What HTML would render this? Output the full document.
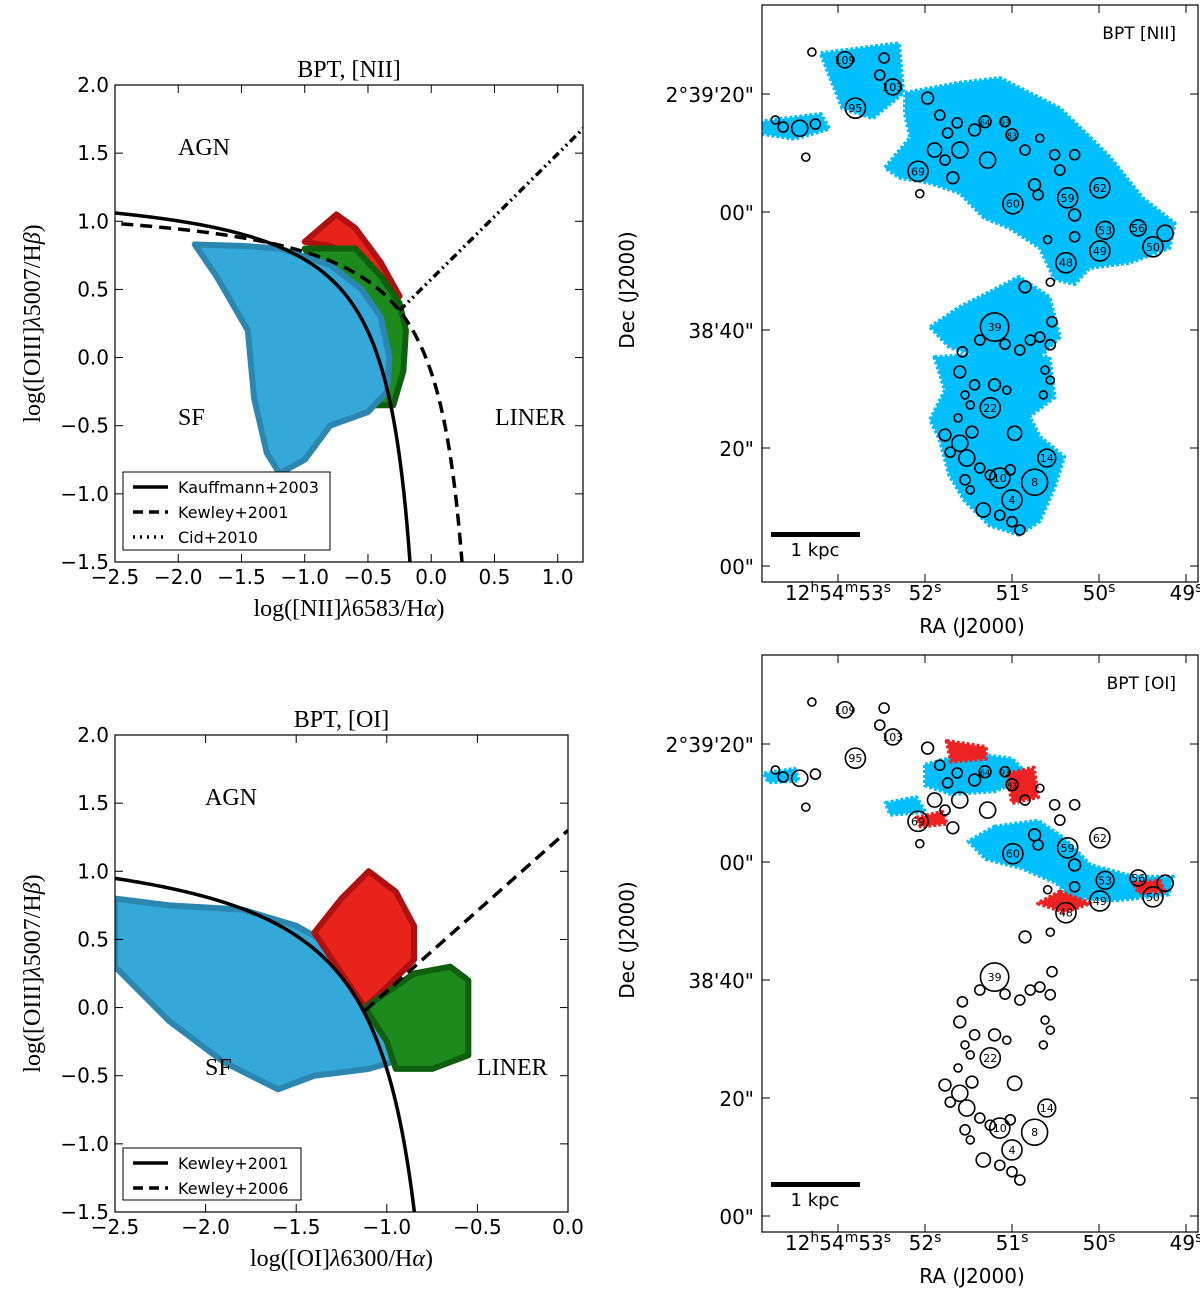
<!DOCTYPE html>
<html><head><meta charset="utf-8"><style>
html,body{margin:0;padding:0;background:#fff}
svg{display:block}
.ser{font-family:"Liberation Serif","DejaVu Serif",serif}
.san{font-family:"DejaVu Sans","Liberation Sans",sans-serif}
</style></head><body>
<svg id="fig" width="1200" height="1295" viewBox="0 0 1200 1295" xmlns="http://www.w3.org/2000/svg"></svg>
<script>
// ---------- DATA ----------
const niiCyanX=[-1.87,-1.5,-1.2,-0.8,-0.55,-0.4,-0.33,-0.35,-0.5,-0.8,-1.0,-1.2,-1.3,-1.4,-1.45,-1.7];
const niiCyanY=[0.83,0.82,0.8,0.68,0.5,0.3,0.0,-0.25,-0.4,-0.5,-0.75,-0.85,-0.7,-0.3,0.2,0.6];
const niiGreenX=[-1.0,-0.6,-0.4,-0.25,-0.2,-0.22,-0.3,-0.45,-0.5];
const niiGreenY=[0.8,0.8,0.6,0.4,0.2,-0.1,-0.35,-0.35,0.0];
const niiRedX=[-1.0,-0.75,-0.6,-0.4,-0.25,-0.35,-0.55,-0.8];
const niiRedY=[0.85,1.05,0.95,0.7,0.45,0.5,0.72,0.82];
const oiCyanX=[-2.5,-2.2,-1.8,-1.5,-1.3,-1.15,-1.0,-0.97,-1.1,-1.4,-1.6,-1.9,-2.2,-2.5];
const oiCyanY=[0.8,0.75,0.72,0.6,0.45,0.25,-0.1,-0.4,-0.45,-0.5,-0.6,-0.4,-0.1,0.3];
const oiRedX=[-1.4,-1.25,-1.1,-0.95,-0.85,-0.85,-1.0,-1.12,-1.25];
const oiRedY=[0.55,0.8,1.0,0.85,0.6,0.35,0.15,0.0,0.25];
const oiGreenX=[-1.12,-0.85,-0.65,-0.55,-0.55,-0.75,-0.95,-1.0];
const oiGreenY=[0.0,0.25,0.3,0.2,-0.35,-0.45,-0.45,-0.25];
const niiXTicks=[-2.5,-2.0,-1.5,-1.0,-0.5,0.0,0.5,1.0];
const oiXTicks=[-2.5,-2.0,-1.5,-1.0,-0.5,0.0];
const yTicks=[2.0,1.5,1.0,0.5,0.0,-0.5,-1.0,-1.5];
// Map circles: [RA seconds (12h54m), Dec arcsec above 2°38'00", radius arcsec, label]
const circles=[
[52.92,85.8,1.36,"109"],[53.30,87.1,0.68,""],[52.52,83.2,0.85,""],[52.47,86.1,0.85,""],[52.37,81.2,1.36,"103"],
[52.80,77.6,1.7,"95"],[53.72,75.6,0.68,""],[53.63,74.4,0.85,""],[53.44,74.2,1.36,""],[53.26,74.9,0.85,""],
[53.37,69.3,0.68,""],[51.97,79.3,1.0,""],[51.83,76.4,0.85,""],[51.63,75.1,0.85,""],[51.74,73.4,0.85,""],
[51.89,70.5,1.2,""],[51.77,68.8,0.85,""],[51.60,70.5,1.36,""],[51.43,73.9,1.0,""],[51.31,75.3,1.0,"64"],
[51.08,75.3,0.85,"93"],[51.00,73.1,1.0,"83"],[51.28,68.8,1.36,""],[50.85,70.5,0.85,""],[50.68,72.5,0.68,""],
[50.51,69.7,0.85,""],[50.28,69.7,0.85,""],[52.08,66.9,1.7,"69"],[52.06,63.1,0.68,""],[51.68,65.8,1.0,""],
[50.74,64.6,1.0,""],[50.45,67.1,0.85,""],[50.70,62.9,0.85,""],[50.99,61.4,1.7,"60"],[50.36,62.4,1.7,"59"],
[49.99,64.1,1.7,"62"],[50.28,59.5,1.0,""],[49.93,56.9,1.5,"53"],[49.55,57.3,1.36,"56"],[49.24,56.4,1.36,""],
[49.99,53.4,1.7,"49"],[49.38,54.1,1.7,"50"],[50.38,51.4,1.7,"48"],[50.28,55.8,0.85,""],[50.59,55.3,0.68,""],
[50.85,47.3,1.0,""],[50.56,48.1,0.68,""],[51.20,40.5,2.4,"39"],[50.54,41.4,0.85,""],[50.68,38.8,0.85,""],
[50.56,37.5,0.85,""],[50.91,36.6,0.85,""],[50.79,38.3,0.85,""],[51.08,37.6,0.85,""],[50.62,33.2,0.68,""],
[50.56,31.5,0.68,""],[50.64,29.0,0.68,""],[51.57,36.3,0.85,""],[51.37,38.3,0.85,""],[51.60,32.9,1.0,""],
[51.43,30.7,0.85,""],[51.20,30.7,1.0,""],[51.06,29.8,0.68,""],[51.54,29.0,0.68,""],[51.48,27.3,0.68,""],
[51.25,26.8,1.7,"22"],[50.97,22.5,1.2,""],[51.62,25.1,0.68,""],[51.77,22.2,1.0,""],[51.46,22.7,1.0,""],
[51.60,20.8,1.36,""],[51.71,19.3,0.85,""],[51.52,18.3,1.36,""],[51.37,16.6,0.85,""],[51.25,15.4,0.85,""],
[51.14,14.9,1.7,"10"],[50.60,18.3,1.5,"14"],[50.74,14.2,2.2,"8"],[51.02,16.3,0.85,""],[51.54,14.6,0.85,""],
[51.48,12.9,0.68,""],[51.00,11.2,1.7,"4"],[51.33,9.5,1.2,""],[51.14,8.6,0.85,""],[51.00,7.5,0.85,""],[50.91,6.1,0.85,""]
];
const raTicks=[53,52,51,50,49];
const decTicks=[0,20,40,60,80];
const decTickLabels=["00\"","20\"","38'40\"","00\"","2°39'20\""];
const blobsTop=[
 [[53.9,75.3],[53.2,76.6],[53.1,74.1],[53.5,72.4],[53.85,73.2]],
 [[53.2,86.9],[52.3,88.6],[52.25,80.2],[52.6,75.9],[52.95,77.6]],
 [[52.23,80.2],[51.6,81.9],[51.14,82.7],[50.8,80.2],[50.45,77.6],[50.1,72.6],[49.87,69.2],[49.5,62.4],[49.13,58.1],[49.19,53.9],[49.65,51.4],[50.11,50.5],[50.28,47.8],[50.51,48.6],[50.68,53.9],[51.03,57.3],[51.32,59.0],[51.6,63.2],[51.94,64.9],[52.29,65.8],[52.46,67.5],[52.17,72.6],[52.23,76.6]],
 [[51.94,40.5],[51.6,43.9],[51.26,46.4],[50.92,49.0],[50.57,45.6],[50.45,38.8],[50.68,35.4],[51.03,35.4],[51.37,35.4],[51.72,37.1]],
 [[51.89,35.4],[51.37,35.9],[50.57,35.4],[50.51,28.6],[50.8,25.3],[50.68,21.9],[50.4,18.5],[50.51,13.4],[50.68,7.6],[50.92,5.3],[51.26,6.9],[51.55,11.2],[51.72,15.4],[51.83,21.4],[51.94,24.8],[51.77,29.8]]
];
const blobsBotCyan=[
 [[53.85,75.0],[53.5,75.8],[53.45,73.8],[53.8,73.5]],
 [[52.0,76.5],[51.5,78.5],[51.0,77.5],[50.8,74.5],[51.2,72.0],[51.7,71.5],[52.0,73.0]],
 [[51.2,66.0],[50.7,67.0],[50.4,64.0],[50.1,59.5],[49.6,57.5],[49.15,57.5],[49.2,54.5],[49.8,53.5],[50.3,54.0],[50.5,56.5],[50.9,59.0],[51.3,60.5],[51.5,63.5]],
 [[52.45,70.0],[52.1,71.0],[52.0,68.5],[52.4,68.0]]
];
const blobsBotRed=[
 [[51.75,80.5],[51.3,79.5],[51.3,77.5],[51.7,77.0]],
 [[51.05,75.0],[50.75,76.0],[50.7,71.0],[51.0,70.0]],
 [[52.1,67.5],[51.8,68.5],[51.75,66.5],[52.05,66.0]],
 [[50.45,55.0],[50.1,53.0],[50.4,51.5],[50.7,53.0]],
 [[49.6,56.5],[49.3,56.8],[49.25,55.0],[49.55,54.8]]
];

// ---------- DRAW ----------
const NS='http://www.w3.org/2000/svg';
const svg=document.getElementById('fig');
function E(tag,attrs,parent,text){const e=document.createElementNS(NS,tag);for(const k in attrs)e.setAttribute(k,attrs[k]);if(text!==undefined)e.textContent=text;(parent||svg).appendChild(e);return e;}
function fmt(v){const s=v.toFixed(1);return v<0?'\u2212'+s.slice(1):s;}

function bpt(o){
 const g=E('g',{});
 
 
 const sx=v=>o.x0+(v-o.xmin)/(o.xmax-o.xmin)*(o.x1-o.x0);
 const sy=v=>o.y1-(v+1.5)/3.5*(o.y1-o.y0);
 const clip='clip'+o.name;
 const cp=E('clipPath',{id:clip},g);E('rect',{x:o.x0,y:o.y0,width:o.x1-o.x0,height:o.y1-o.y0},cp);
 const cg=E('g',{'clip-path':'url(#'+clip+')'},g);
 o.clouds.forEach(c=>{
  const p=E('polygon',{points:c.x.map((v,i)=>sx(v)+','+sy(c.y[i])).join(' '),fill:c.fill,stroke:c.stroke,'stroke-width':6,'stroke-linejoin':'round'},cg);
  
  
 });
 o.lines.forEach(l=>{
  let pts=[];for(let i=0;i<=200;i++){const x=l.a+(l.b-l.a)*i/200;pts.push(sx(x)+','+sy(l.f(x)));}
  const p=E('polyline',{points:pts.join(' '),fill:'none',stroke:'#000','stroke-width':3.5,'stroke-dasharray':l.dash||'none'},cg);
  
  
 });
 const fr=E('rect',{x:o.x0,y:o.y0,width:o.x1-o.x0,height:o.y1-o.y0,fill:'none',stroke:'#000','stroke-width':1.2},g);
 
 
 o.xt.forEach(v=>{const x=sx(v);
  E('line',{x1:x,x2:x,y1:o.y1,y2:o.y1-8,stroke:'#000'},g);E('line',{x1:x,x2:x,y1:o.y0,y2:o.y0+8,stroke:'#000'},g);
  const t=E('text',{x:x,y:o.y1+22,'text-anchor':'middle','font-size':20,class:'san'},g,fmt(v));
  
  
 });
 yTicks.forEach(v=>{const y=sy(v);
  E('line',{x1:o.x0,x2:o.x0+8,y1:y,y2:y,stroke:'#000'},g);E('line',{x1:o.x1,x2:o.x1-8,y1:y,y2:y,stroke:'#000'},g);
  const t=E('text',{x:o.x0-6,y:y+7,'text-anchor':'end','font-size':20,class:'san'},g,fmt(v));
  
  
 });
 const ti=E('text',{x:(o.x0+o.x1)/2,y:o.y0-8,'text-anchor':'middle','font-size':24,class:'ser'},g,o.title);
 
 
 const xl=E('text',{x:(o.x0+o.x1)/2,y:o.y1+54,'text-anchor':'middle','font-size':24,class:'ser'},g);
 
 
 xl.innerHTML=o.xlab;
 const yl=E('text',{x:0,y:0,'text-anchor':'middle','font-size':24,class:'ser',transform:'translate(40,'+((o.y0+o.y1)/2)+') rotate(-90)'},g);
 
 
 yl.innerHTML='log([OIII]<tspan font-style="italic">λ</tspan>5007/H<tspan font-style="italic">β</tspan>)';
 o.labels.forEach(L=>{const t=E('text',{x:L[1],y:L[2],'font-size':24,class:'ser'},g,L[0]);
  
  });
 const lg=E('g',{},g);
 
 
 E('rect',{x:o.leg[0],y:o.leg[1],width:o.leg[2],height:o.leg[3],fill:'#fff',stroke:'#000'},lg);
 o.legItems.forEach((it,i)=>{const y=o.leg[1]+15+i*25;
  E('line',{x1:o.leg[0]+10,x2:o.leg[0]+45,y1:y,y2:y,stroke:'#000','stroke-width':3.5,'stroke-dasharray':it[1]},lg);
  const t=E('text',{x:o.leg[0]+55,y:y+6,'font-size':16,class:'san'},lg,it[0]);
  
  
 });
}

bpt({name:'bpt-nii',x0:115,x1:583,y0:85,y1:562,xmin:-2.5,xmax:1.2,xt:niiXTicks,title:'BPT, [NII]',
 xlab:'log([NII]<tspan font-style="italic">λ</tspan>6583/H<tspan font-style="italic">α</tspan>)',
 clouds:[{name:'agn-points',x:niiRedX,y:niiRedY,fill:'#e8231c',stroke:'#b01010'},
  {name:'composite-points',x:niiGreenX,y:niiGreenY,fill:'#1d8a1d',stroke:'#0f5f0f'},
  {name:'sf-points',x:niiCyanX,y:niiCyanY,fill:'#34a9d9',stroke:'#2b87b0'}],
 lines:[{name:'kauffmann-2003',a:-2.6,b:-0.168,f:x=>0.61/(x-0.05)+1.3},
  {name:'kewley-2001',a:-2.6,b:0.243,f:x=>0.61/(x-0.47)+1.19,dash:'12,7'},
  {name:'cid-2010',a:-0.25,b:1.25,f:x=>0.92*x+0.575,dash:'8,4,2,4,2,4'}],
 labels:[['AGN',178,155],['SF',178,425],['LINER',495,425]],
 leg:[123,472,207,78],legItems:[['Kauffmann+2003','none'],['Kewley+2001','10,6'],['Cid+2010','2,5']]});

bpt({name:'bpt-oi',x0:115,x1:568,y0:735,y1:1212,xmin:-2.5,xmax:0,xt:oiXTicks,title:'BPT, [OI]',
 xlab:'log([OI]<tspan font-style="italic">λ</tspan>6300/H<tspan font-style="italic">α</tspan>)',
 clouds:[{name:'sf-points',x:oiCyanX,y:oiCyanY,fill:'#34a9d9',stroke:'#2b87b0'},
  {name:'agn-points',x:oiRedX,y:oiRedY,fill:'#e8231c',stroke:'#b01010'},
  {name:'liner-points',x:oiGreenX,y:oiGreenY,fill:'#1d8a1d',stroke:'#0f5f0f'}],
 lines:[{name:'kewley-2001',a:-2.6,b:-0.848,f:x=>0.73/(x+0.59)+1.33},
  {name:'kewley-2006',a:-1.12,b:0.0,f:x=>1.18*x+1.30,dash:'12,7'}],
 labels:[['AGN',205,805],['SF',205,1075],['LINER',477,1075]],
 leg:[123,1148,178,52],legItems:[['Kewley+2001','none'],['Kewley+2006','10,6']]});

function map(o){
 const g=E('g',{});
 
 
 const dy=o.dy;
 const sx=ra=>925+(52-ra)*87;
 const sy=d=>566+dy-d*5.9;
 const clip='clip'+o.name;
 const cp=E('clipPath',{id:clip},g);E('rect',{x:762,y:5+dy,width:436,height:577},cp);
 const cg=E('g',{'clip-path':'url(#'+clip+')'},g);
 o.blobs.forEach(b=>{
  const p=E('polygon',{points:b.pts.map(q=>sx(q[0])+','+sy(q[1])).join(' '),fill:b.c,stroke:b.c,'stroke-width':4,'stroke-linejoin':'round','stroke-dasharray':'3,2'},cg);
  
  
 });
 circles.forEach(cr=>{
  const c=E('circle',{cx:sx(cr[0]),cy:sy(cr[1]),r:cr[2]*5.9,fill:'none',stroke:'#000','stroke-width':1.6},cg);
  
  
  if(cr[3]){const t=E('text',{x:sx(cr[0]),y:sy(cr[1])+4,'text-anchor':'middle','font-size':cr[2]>1.2?11:8,class:'san'},cg,cr[3]);
   
   }
 });
 E('rect',{x:762,y:5+dy,width:436,height:577,fill:'none',stroke:'#000','stroke-width':1.2},g);
 raTicks.forEach((s,i)=>{const x=sx(s);
  E('line',{x1:x,x2:x,y1:582+dy,y2:574+dy,stroke:'#000'},g);E('line',{x1:x,x2:x,y1:5+dy,y2:13+dy,stroke:'#000'},g);
  const t=E('text',{x:x,y:600+dy,'text-anchor':'middle','font-size':20,class:'san'},g);
  
  
  t.innerHTML=(i===0?'12<tspan dy="-8" font-size="14">h</tspan><tspan dy="8">54</tspan><tspan dy="-8" font-size="14">m</tspan><tspan dy="8">'+s+'</tspan>':s)+'<tspan dy="-8" font-size="14">s</tspan>';
 });
 decTicks.forEach((d,i)=>{const y=sy(d);
  E('line',{x1:762,x2:770,y1:y,y2:y,stroke:'#000'},g);E('line',{x1:1198,x2:1190,y1:y,y2:y,stroke:'#000'},g);
  const t=E('text',{x:754,y:y+8,'text-anchor':'end','font-size':20,class:'san'},g,decTickLabels[i]);
  
  
 });
 const xt=E('text',{x:972,y:633+dy,'text-anchor':'middle','font-size':20,class:'san'},g,'RA (J2000)');
 
 
 const yt=E('text',{x:0,y:0,'text-anchor':'middle','font-size':20,class:'san',transform:'translate(634,'+(290+dy)+') rotate(-90)'},g,'Dec (J2000)');
 
 
 const ti=E('text',{x:1176,y:39+dy,'text-anchor':'end','font-size':17,class:'san'},g,o.title);
 
 
 const sb=E('rect',{x:771,y:532+dy,width:89,height:5,fill:'#000'},g);
 
 
 const st=E('text',{x:815,y:556+dy,'text-anchor':'middle','font-size':18,class:'san'},g,'1 kpc');
 
 
}
map({name:'map-bpt-nii',dy:0,title:'BPT [NII]',blobs:blobsTop.map(p=>({pts:p,c:'#00bfff',n:'sf-region'}))});
map({name:'map-bpt-oi',dy:650,title:'BPT [OI]',blobs:blobsBotCyan.map(p=>({pts:p,c:'#00bfff',n:'sf-region'})).concat(blobsBotRed.map(p=>({pts:p,c:'#ee2222',n:'agn-region'})))});
</script>
</body></html>
